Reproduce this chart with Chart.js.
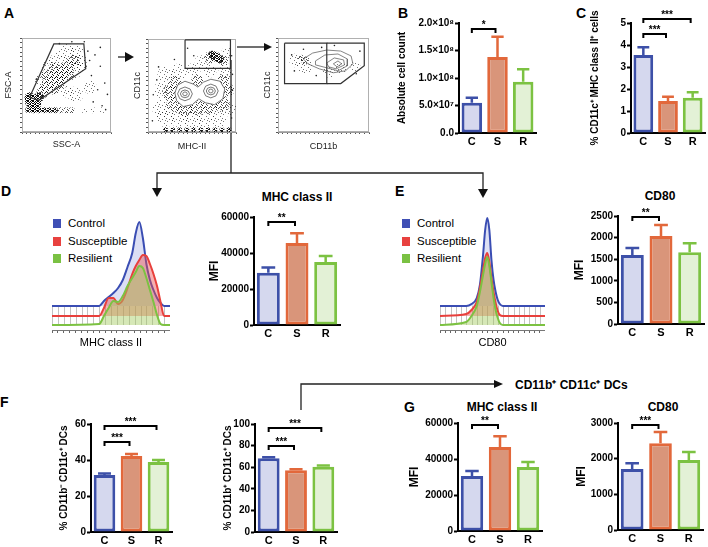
<!DOCTYPE html>
<html>
<head>
<meta charset="utf-8">
<script src="https://cdn.jsdelivr.net/npm/chart.js@4.4.0/dist/chart.umd.min.js"></script>
<style>
  body { margin: 0; width: 708px; height: 547px; position: relative; overflow: hidden; background: #fff;
         font-family: "Liberation Sans", Arial, sans-serif; color: #000; }
  canvas { position: absolute; }
  .t { position: absolute; white-space: nowrap; }
  .letter { font-weight: bold; font-size: 14px; }
  .head { font-weight: bold; font-size: 12px; transform: translate(-50%, -50%); }
  .leg { position: absolute; font-size: 11.5px; line-height: 13px; white-space: nowrap; }
  .leg i { display: inline-block; width: 8px; height: 9px; margin-right: 7px; vertical-align: -1px; }
</style>
</head>
<body>
<svg width="708" height="547" style="position:absolute;left:0;top:0">
  <g stroke="#222" stroke-width="1.3" fill="none">
    <line x1="118" y1="57" x2="127" y2="57"/>
    <line x1="237" y1="47" x2="265" y2="47"/>
    <polyline points="231,60 231,173"/>
    <polyline points="157,189 157,173 483,173 483,189"/>
    <polyline points="301,410 301,384 495,384"/>
  </g>
  <g fill="#111">
    <polygon points="134,57 125,52 125,62"/>
    <polygon points="272,47 264,43 264,51"/>
    <polygon points="157,197 152,188 162,188"/>
    <polygon points="483,198 478,189 488,189"/>
    <polygon points="503,384 494,380 494,388"/>
  </g>
</svg>

<div class="t letter" style="left:4px;top:5px">A</div>
<div class="t letter" style="left:398px;top:5px">B</div>
<div class="t letter" style="left:576px;top:5px">C</div>
<div class="t letter" style="left:1px;top:183px">D</div>
<div class="t letter" style="left:395px;top:183px">E</div>
<div class="t letter" style="left:0px;top:394px">F</div>
<div class="t letter" style="left:404px;top:399px">G</div>

<div class="t head" style="left:297px;top:197px">MHC class II</div>
<div class="t head" style="left:660px;top:196px">CD80</div>
<div class="t head" style="left:502px;top:407px">MHC class II</div>
<div class="t head" style="left:663px;top:407px">CD80</div>
<div class="t" style="left:515px;top:376px;font-weight:bold;font-size:12px">CD11b⁺ CD11c⁺ DCs</div>

<div class="leg" style="left:53px;top:217px"><i style="background:#3f4fb5"></i>Control</div>
<div class="leg" style="left:53px;top:235px"><i style="background:#e8413f"></i>Susceptible</div>
<div class="leg" style="left:53px;top:252px"><i style="background:#7ac143"></i>Resilient</div>
<div class="leg" style="left:402px;top:217px"><i style="background:#3f4fb5"></i>Control</div>
<div class="leg" style="left:402px;top:235px"><i style="background:#e8413f"></i>Susceptible</div>
<div class="leg" style="left:402px;top:252px"><i style="background:#7ac143"></i>Resilient</div>

<script>
// ---- bar data (mean, SEM) ----
const groups = ['C', 'S', 'R'];
const bCount = [5.5e7, 1.38e8, 9.3e7];
const bCountSem = [0.9e7, 0.37e8, 0.23e8];
const bTicks = ['0.0', '5.0×10⁷', '1.0×10⁸', '1.5×10⁸', '2.0×10⁸'];
const cPct = [3.55, 1.45, 1.6];
const cPctSem = [0.35, 0.2, 0.25];
const dMhc = [29000, 45500, 35000];
const dMhcSem = [3000, 5500, 3300];
const eCd80 = [1600, 2035, 1660];
const eCd80Sem = [160, 255, 210];
const fNeg = [31.7, 42.2, 38.9];
const fNegSem = [0.8, 1.2, 1.1];
const fPos = [68.3, 57.2, 60.5];
const fPosSem = [0.8, 1.0, 1.0];
const gMhc = [30500, 46600, 35500];
const gMhcSem = [2800, 6100, 2800];
const gCd80 = [1710, 2435, 1960];
const gCd80Sem = [165, 310, 225];

// ---- histogram data (offset overlays: control, susceptible, resilient) ----
const histBase = [24, 14, 5];
const dChannel = [0, 40, 44, 48, 52, 56, 60, 64, 68, 71, 74, 77, 80, 83, 86, 89, 92, 95, 100];
const dControl = [24, 24, 29, 33, 37, 42, 50, 63, 77, 97, 108, 92, 66, 50, 40, 32, 27, 24, 24];
const dSuscept = [14, 14, 22, 32, 32, 26, 30, 42, 56, 64, 70, 75, 74, 66, 56, 44, 28, 14, 14];
const dResil = [5, 6, 14, 22, 29, 28, 34, 44, 52, 58, 64, 62, 52, 40, 28, 15, 6, 5, 5];
const eChannel = [0, 25, 30, 35, 38, 41, 43, 45, 47, 49, 51, 53, 55, 57, 60, 65, 100];
const eControl = [24, 24, 26, 32, 45, 75, 100, 112, 100, 70, 50, 38, 30, 26, 24, 24, 24];
const eSuscept = [14, 16, 20, 28, 42, 60, 72, 77, 68, 52, 38, 27, 19, 15, 14, 14, 14];
const eResil = [5, 8, 14, 24, 38, 55, 66, 73, 64, 48, 32, 20, 12, 7, 5, 5, 5];

// ---- flow plots (0-1000 arbitrary units; clouds are [x, y, radius]) ----
const p1Gate = [[84, 368], [358, 937], [695, 937], [716, 674], [190, 337], [84, 368]];
const p1Dense = [[110, 330, 7], [150, 300, 6], [85, 370, 5], [190, 370, 5], [140, 250, 4], [70, 235, 3],
  [130, 232, 3], [190, 232, 3], [250, 232, 3], [310, 232, 3], [370, 232, 3]];
const p1Mid = [[230, 420, 6], [280, 480, 7], [340, 540, 7], [400, 600, 7], [460, 650, 7], [520, 700, 7],
  [580, 760, 6], [360, 460, 6], [440, 520, 6], [520, 600, 6], [280, 600, 6], [360, 680, 6], [440, 560, 6],
  [430, 232, 3], [500, 232, 3], [560, 232, 3]];
const p1Light = [[600, 660, 8], [650, 760, 7], [620, 860, 7], [500, 850, 8], [400, 760, 8], [300, 700, 7],
  [220, 560, 7], [660, 720, 6], [700, 232, 3], [800, 232, 3], [900, 232, 3], [600, 400, 8], [760, 480, 7],
  [500, 430, 6]];
const p1Dots = [[940, 238], [800, 320], [900, 280], [850, 450], [930, 520], [780, 600], [880, 700], [820, 820],
  [700, 960], [560, 960], [420, 940], [160, 560], [720, 700], [760, 760], [740, 860], [960, 400], [880, 900]];

const p2Gate = [[421, 990], [937, 990], [937, 684], [421, 684], [421, 990]];
const p2Dense = [[770, 810, 5], [820, 780, 4], [730, 830, 4], [200, 25, 2.5], [280, 25, 2.5], [360, 25, 2.5],
  [440, 25, 2.5], [520, 25, 2.5], [600, 25, 2.5], [680, 25, 2.5], [760, 25, 2.5], [840, 25, 2.5], [920, 25, 2.5]];
const p2Mid = [[250, 420, 8], [300, 300, 8], [420, 250, 8], [560, 260, 8], [700, 280, 8], [840, 300, 8],
  [900, 450, 7], [300, 530, 7], [560, 560, 6], [860, 560, 6], [700, 800, 6], [860, 760, 5]];
const p2Light = [[150, 250, 9], [200, 150, 9], [350, 150, 9], [500, 130, 9], [650, 150, 9], [800, 150, 9],
  [930, 250, 7], [150, 450, 8], [200, 620, 8], [350, 650, 8], [520, 670, 7], [700, 660, 7], [880, 640, 7],
  [600, 760, 6], [900, 850, 6]];
const p2Dots = [[450, 900], [950, 820], [60, 400], [100, 560], [50, 120], [960, 450], [950, 150], [120, 700],
  [300, 780], [520, 820], [960, 620]];
const p2Outer = [[305, 420], [336, 504], [420, 546], [515, 515], [567, 483], [630, 536], [714, 567], [819, 546],
  [872, 462], [851, 357], [756, 294], [651, 315], [578, 357], [504, 294], [399, 273], [326, 336], [305, 420]];
const p2Contours = [
  [[336, 410], [361, 462], [420, 484], [479, 462], [504, 410], [479, 358], [420, 336], [361, 358], [336, 410]],
  [[368, 410], [383, 440], [420, 452], [457, 440], [472, 410], [457, 380], [420, 368], [383, 380], [368, 410]],
  [[394, 410], [402, 425], [420, 431], [438, 425], [446, 410], [438, 395], [420, 389], [402, 395], [394, 410]],
  [[630, 441], [655, 493], [714, 515], [773, 493], [798, 441], [773, 389], [714, 367], [655, 389], [630, 441]],
  [[662, 441], [677, 471], [714, 483], [751, 471], [766, 441], [751, 411], [714, 399], [677, 411], [662, 441]],
  [[688, 441], [696, 456], [714, 462], [732, 456], [740, 441], [732, 426], [714, 420], [696, 426], [688, 441]]];

const p3GateL = [[72, 945], [536, 945], [536, 515], [72, 515], [72, 945]];
const p3GateR = [[536, 945], [948, 945], [948, 704], [690, 515], [536, 515]];
const p3Contours = [
  [[278, 777], [381, 840], [536, 872], [690, 861], [803, 809], [824, 725], [742, 651], [608, 630], [453, 672], [330, 725], [278, 777]],
  [[412, 756], [515, 819], [659, 830], [762, 777], [762, 704], [659, 651], [536, 683], [412, 714], [412, 756]],
  [[536, 735], [618, 788], [721, 767], [731, 714], [639, 672], [557, 693], [536, 735]],
  [[608, 725], [659, 756], [700, 725], [649, 693], [608, 725]]];
const p3Mid = [[300, 760, 4], [250, 790, 3]];
const p3Light = [[300, 700, 8], [200, 760, 7], [700, 680, 6], [560, 640, 6], [850, 700, 5]];
const p3Dots = [[150, 820], [280, 880], [480, 900], [620, 920], [900, 860], [860, 620], [420, 600], [180, 650]];

// ---- styles ----
const fills = ['#d5d8ee', '#d9957a', '#e3f1d6'];
const edges = ['#3d50a8', '#e2683b', '#7cc242'];
const histLine = ['#7cc242', '#e8403c', '#3a4db3'];
const histFill = ['rgba(165,205,95,0.45)', 'rgba(236,80,80,0.45)', 'rgba(130,140,215,0.28)'];
const FONT = '"Liberation Sans", Arial, sans-serif';

Chart.defaults.font.family = FONT;
Chart.defaults.color = '#000';
Chart.defaults.animation = false;
Chart.defaults.responsive = false;
Chart.defaults.plugins.legend.display = false;
Chart.defaults.plugins.tooltip.enabled = false;

// stipple textures for the event clouds
function stipple(size, cells, color) {
  const c = document.createElement('canvas');
  c.width = size; c.height = size;
  const g = c.getContext('2d');
  g.fillStyle = color;
  cells.forEach((p) => g.fillRect(p[0], p[1], 1, 1));
  return g.createPattern(c, 'repeat');
}
const texDense = stipple(5, [[0, 0], [2, 1], [4, 0], [1, 2], [3, 2], [0, 3], [2, 4], [4, 3], [1, 4], [3, 0],
  [4, 1], [0, 1], [2, 3]], 'rgba(0,0,0,0.9)');
const texMid = stipple(5, [[0, 0], [3, 1], [1, 3], [4, 4], [2, 2], [4, 2]], 'rgba(0,0,0,0.7)');
const texLight = stipple(7, [[0, 0], [4, 2], [2, 5], [6, 4], [5, 6]], 'rgba(0,0,0,0.55)');

function makeCanvas(b) {
  const cv = document.createElement('canvas');
  cv.width = b.w; cv.height = b.h;
  cv.style.left = b.l + 'px'; cv.style.top = b.t + 'px';
  document.body.appendChild(cv);
  return cv;
}

const errorBars = {
  id: 'errorBars',
  afterDatasetsDraw(chart) {
    const ctx = chart.ctx, y = chart.scales.y, ds = chart.data.datasets[0];
    chart.getDatasetMeta(0).data.forEach((bar, i) => {
      const top = y.getPixelForValue(ds.data[i] + ds.sem[i]);
      const half = bar.width * 0.3;
      ctx.save();
      ctx.strokeStyle = edges[i];
      ctx.lineWidth = 2.5;
      ctx.beginPath();
      ctx.moveTo(bar.x, bar.y);
      ctx.lineTo(bar.x, top);
      ctx.moveTo(bar.x - half, top);
      ctx.lineTo(bar.x + half, top);
      ctx.stroke();
      ctx.restore();
    });
  }
};

function bracketsFor(list) {
  return {
    id: 'brackets',
    afterDraw(chart) {
      const ctx = chart.ctx, x = chart.scales.x, y = chart.scales.y;
      list.forEach((b) => {
        const x1 = x.getPixelForValue(b[0]), x2 = x.getPixelForValue(b[1]) - 2, yy = Math.round(y.getPixelForValue(b[2]));
        ctx.save();
        ctx.strokeStyle = '#000';
        ctx.lineWidth = 2;
        ctx.beginPath();
        ctx.moveTo(x1, yy + 4); ctx.lineTo(x1, yy); ctx.lineTo(x2, yy); ctx.lineTo(x2, yy + 4);
        ctx.stroke();
        ctx.font = 'bold 10px ' + FONT;
        ctx.textAlign = 'center';
        ctx.textBaseline = 'alphabetic';
        ctx.fillText(b[3], (x1 + x2) / 2, yy - 1);
        ctx.restore();
      });
    }
  };
}

function barChart(b, vals, sem, yMax, step, yTitle, brackets, tickLabels) {
  return new Chart(makeCanvas(b), {
    type: 'bar',
    data: {
      labels: groups,
      datasets: [{ data: vals, sem: sem, backgroundColor: fills, borderColor: edges, borderWidth: 3,
        borderSkipped: false, barPercentage: 0.8, categoryPercentage: 1 }]
    },
    options: {
      layout: { padding: { top: b.pt, right: 2, left: 0, bottom: 0 } },
      scales: {
        x: {
          grid: { display: false, drawTicks: false },
          border: { width: 2, color: '#000' },
          ticks: { font: { weight: 'bold', size: 11 }, padding: 2 },
          afterFit: (s) => { s.height = b.xh; }
        },
        y: {
          min: 0, max: yMax,
          ticks: { stepSize: step, font: { weight: 'bold', size: 10 }, padding: 1,
            callback: (v, i) => tickLabels ? tickLabels[i] : String(v) },
          grid: { drawOnChartArea: false, tickLength: 4, tickWidth: 2, tickColor: '#000' },
          border: { width: 2, color: '#000' },
          title: { display: true, text: yTitle, font: { weight: 'bold', size: b.ts || 10 }, padding: 0 },
          afterFit: (s) => { s.width = b.yw; }
        }
      }
    },
    plugins: [errorBars, bracketsFor(brackets)]
  });
}

const hatch = {
  id: 'hatch',
  beforeDatasetsDraw(chart) {
    const ctx = chart.ctx, x = chart.scales.x, y = chart.scales.y;
    ctx.save();
    ctx.strokeStyle = 'rgba(120,120,120,0.45)';
    ctx.lineWidth = 1;
    x.ticks.forEach((t) => {
      const px = Math.round(x.getPixelForValue(t.value)) + 0.5;
      ctx.beginPath();
      ctx.moveTo(px, y.getPixelForValue(histBase[2]));
      ctx.lineTo(px, y.getPixelForValue(histBase[0]));
      ctx.stroke();
    });
    ctx.restore();
  }
};

function histo(b, xs, series, xTitle) {
  const sets = series.map((vals, i) => ({
    data: xs.map((x, k) => ({ x: x, y: vals[k] })),
    borderColor: histLine[i], backgroundColor: histFill[i], borderWidth: 2, pointRadius: 0,
    fill: { value: histBase[2 - i] }, cubicInterpolationMode: 'monotone'
  }));
  return new Chart(makeCanvas(b), {
    type: 'line',
    data: { datasets: sets },
    options: {
      layout: { padding: { top: b.pt, right: 0, left: 0, bottom: 0 } },
      scales: {
        x: {
          type: 'linear', min: 0, max: 100,
          ticks: { display: false, stepSize: 5 },
          grid: { drawOnChartArea: false, tickLength: 3, color: '#666' },
          border: { color: '#777' },
          title: { display: true, text: xTitle, font: { size: 11 }, padding: 0 },
          afterFit: (s) => { s.height = b.xh; }
        },
        y: { display: false, min: 0, max: 120 }
      }
    },
    plugins: [hatch]
  });
}

const frame = {
  id: 'frame',
  beforeDatasetsDraw(chart) {
    const a = chart.chartArea, c = chart.ctx;
    c.save();
    c.strokeStyle = '#b0b0b0';
    c.lineWidth = 1;
    c.strokeRect(a.left + 0.5, a.top + 0.5, a.right - a.left - 1, a.bottom - a.top - 1);
    c.restore();
  }
};

const pts = (arr) => arr.map((p) => ({ x: p[0], y: p[1] }));
const bub = (arr) => arr.map((p) => ({ x: p[0], y: p[1], r: p[2] }));
const lineSet = (arr, color, width) => ({ data: pts(arr), showLine: true, pointRadius: 0,
  borderColor: color, borderWidth: width, fill: false });
const dot = (arr) => ({ data: pts(arr), pointRadius: 0.8, pointBackgroundColor: '#222', pointBorderWidth: 0 });
const cloud = (arr, tex) => ({ type: 'bubble', data: bub(arr), backgroundColor: tex, borderWidth: 0 });

function flowAxis(title, b, isX) {
  return {
    type: 'linear', min: 0, max: 1000,
    ticks: { display: false, stepSize: 50 },
    grid: { drawOnChartArea: false, tickLength: 2, color: '#555' },
    border: { color: '#999' },
    title: { display: true, text: title, font: { size: 9 }, color: '#222', padding: 0 },
    afterFit: (s) => { if (isX) s.height = b.xh; else s.width = b.yw; }
  };
}

function flowPlot(b, sets, xTitle, yTitle) {
  return new Chart(makeCanvas(b), {
    type: 'scatter',
    data: { datasets: sets },
    options: {
      layout: { padding: { top: b.pt, right: 2, left: 0, bottom: 0 } },
      scales: { x: flowAxis(xTitle, b, true), y: flowAxis(yTitle, b, false) }
    },
    plugins: [frame]
  });
}

// ---- panel A: gating ----
flowPlot({ l: 3, t: 30, w: 116, h: 120, pt: 7, yw: 19, xh: 18 },
  [lineSet(p1Gate, '#333', 1.2), dot(p1Dots), cloud(p1Dense, texDense), cloud(p1Mid, texMid),
    cloud(p1Light, texLight)], 'SSC-A', 'FSC-A');

flowPlot({ l: 132, t: 30, w: 113, h: 122, pt: 7, yw: 16, xh: 20 },
  [lineSet(p2Gate, '#333', 1.2)]
    .concat(p2Contours.map((c) => lineSet(c, '#555', 0.8)))
    .concat([Object.assign(lineSet(p2Outer, '#555', 0.8), { fill: 'shape', backgroundColor: '#fff' }),
      dot(p2Dots), cloud(p2Dense, texDense), cloud(p2Mid, texMid), cloud(p2Light, texLight)]), 'MHC-II', 'CD11c');

flowPlot({ l: 262, t: 30, w: 115, h: 122, pt: 7, yw: 16, xh: 20 },
  [lineSet(p3GateL, '#333', 1.2), lineSet(p3GateR, '#333', 1.2)]
    .concat(p3Contours.map((c) => lineSet(c, '#666', 0.8)))
    .concat([dot(p3Dots), cloud(p3Mid, texMid), cloud(p3Light, texLight)]), 'CD11b', 'CD11c');

// ---- B, C ----
barChart({ l: 396, t: 2, w: 142, h: 149, pt: 21, yw: 63, xh: 18 }, bCount, bCountSem, 2e8, 5e7,
  'Absolute cell count', [[0, 1, 1.89e8, '*']], bTicks);
barChart({ l: 589, t: 0, w: 118, h: 155, pt: 23, yw: 42, xh: 22 }, cPct, cPctSem, 5, 1,
  '% CD11c⁺ MHC class II⁺ cells', [[0, 1, 4.5, '***'], [0, 2, 5.2, '***']]);

// ---- D, E ----
histo({ l: 52, t: 205, w: 118, h: 145, pt: 5, xh: 20 }, dChannel, [dResil, dSuscept, dControl], 'MHC class II');
barChart({ l: 207, t: 200, w: 135, h: 145, pt: 17, yw: 47, xh: 20, ts: 12 }, dMhc, dMhcSem, 60000, 20000,
  'MFI', [[0, 1, 57200, '**']]);
histo({ l: 440, t: 205, w: 105, h: 145, pt: 5, xh: 20 }, eChannel, [eResil, eSuscept, eControl], 'CD80');
barChart({ l: 572, t: 199, w: 134, h: 145, pt: 17, yw: 46, xh: 20, ts: 12 }, eCd80, eCd80Sem, 2500, 500,
  'MFI', [[0, 1, 2477, '**']]);

// ---- F ----
barChart({ l: 58, t: 405, w: 116, h: 142, pt: 19, yw: 33, xh: 15 }, fNeg, fNegSem, 60, 20,
  '% CD11b⁻ CD11c⁺ DCs', [[0, 1, 50, '***'], [0, 2, 58.9, '***']]);
barChart({ l: 222, t: 405, w: 117, h: 142, pt: 19, yw: 33, xh: 15 }, fPos, fPosSem, 100, 20,
  '% CD11b⁺ CD11c⁺ DCs', [[0, 1, 79.6, '***'], [0, 2, 96.3, '***']]);

// ---- G ----
barChart({ l: 407, t: 404, w: 137, h: 142, pt: 19, yw: 51, xh: 15, ts: 12 }, gMhc, gMhcSem, 60000, 20000,
  'MFI', [[0, 1, 58900, '**']]);
barChart({ l: 574, t: 404, w: 131, h: 141, pt: 19, yw: 44, xh: 15, ts: 12 }, gCd80, gCd80Sem, 3000, 1000,
  'MFI', [[0, 1, 2940, '***']]);
</script>
</body>
</html>
